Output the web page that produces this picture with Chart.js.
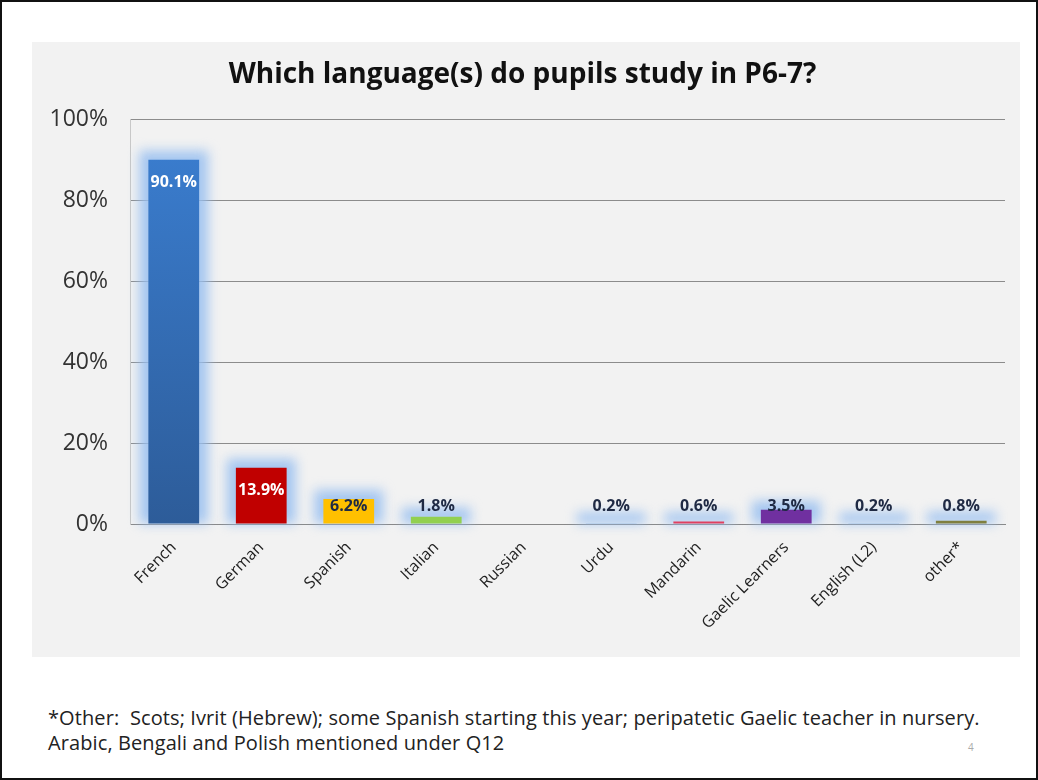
<!DOCTYPE html>
<html>
<head>
<meta charset="utf-8">
<script src="https://cdn.jsdelivr.net/npm/chart.js@4"></script>
<style>
  html, body { margin: 0; padding: 0; background: #fff; }
  #frame {
    position: relative; width: 1038px; height: 780px;
    box-sizing: border-box; border: 2px solid #111; background: #fff;
    font-family: "Open Sans", sans-serif;
  }
  #box {
    position: absolute; left: 30px; top: 40px; width: 988px; height: 615px;
    background: #f2f2f2;
  }
  #note {
    position: absolute; left: 46px; top: 703px; font-size: 20px; line-height: 25px;
    letter-spacing: 0.1px; color: #222; white-space: nowrap;
  }
  #page { position: absolute; left: 966px; top: 738px; font-size: 10px; color: #aaa; }
</style>
</head>
<body>
<div id="frame">
  <div id="box"><canvas id="placeholder1"></canvas></div>
  <div id="note">*Other:&nbsp; Scots; Ivrit (Hebrew); some Spanish starting this year; peripatetic Gaelic teacher in nursery.<br>Arabic, Bengali and Polish mentioned under Q12</div>
  <div id="page">4</div>
</div>
<script>
const languages = ['French', 'German', 'Spanish', 'Italian', 'Russian', 'Urdu', 'Mandarin', 'Gaelic Learners', 'English (L2)', 'other*'];
const percentages = [90.1, 13.9, 6.2, 1.8, 0, 0.2, 0.6, 3.5, 0.2, 0.8];
const barColors = ['#3670bd', '#c00000', '#ffc000', '#92d050', '#8db3e2', '#8db3e2', '#e04060', '#7030a0', '#8db3e2', '#7f7f3f'];
const labelColors = ['#ffffff', '#ffffff', '#1f2a44', '#1f2a44', '#1f2a44', '#1f2a44', '#1f2a44', '#1f2a44', '#1f2a44', '#1f2a44'];

const ctx = document.getElementById('placeholder1');

// soft blue glow round the bars (taken from the bar elements)
const glow = {
    id: 'glow',
    beforeDatasetsDraw(chart) {
        const c = chart.ctx;
        const meta = chart.getDatasetMeta(0);
        c.save();
        c.filter = 'blur(6px)';
        c.fillStyle = 'rgba(150, 190, 240, 0.85)';
        meta.data.forEach((bar, i) => {
            if (percentages[i] === 0) return;
            const half = bar.width / 2 + 9;
            const top = Math.min(bar.y, bar.base - 2) - 9;
            c.fillRect(bar.x - half, top, half * 2, bar.base - top);
        });
        c.restore();
    }
};

// value labels on the bars
const valueLabels = {
    id: 'valueLabels',
    afterDatasetsDraw(chart) {
        const c = chart.ctx;
        const meta = chart.getDatasetMeta(0);
        const base = chart.scales.y.getPixelForValue(0);
        c.save();
        c.font = 'bold 16px "Open Sans", sans-serif';
        c.textAlign = 'center';
        c.textBaseline = 'middle';
        meta.data.forEach((bar, i) => {
            if (percentages[i] === 0) return;
            const y = Math.min(bar.y + 23, base - 18);
            c.fillStyle = labelColors[i];
            c.fillText(percentages[i].toFixed(1) + '%', bar.x, y);
        });
        c.restore();
    }
};

const data = {
    labels: languages,
    datasets: [
        {
            data: percentages,
            backgroundColor: (context) => {
                const i = context.dataIndex;
                const area = context.chart.chartArea;
                if (i === 0 && area) {
                    const g = context.chart.ctx.createLinearGradient(0, area.top, 0, area.bottom);
                    g.addColorStop(0, '#3b7fd2');
                    g.addColorStop(1, '#2d5c99');
                    return g;
                }
                return barColors[i];
            },
            barPercentage: 0.58,
            categoryPercentage: 1.0,
        }
    ]
};

const config = {
    type: 'bar',
    data: data,
    plugins: [glow, valueLabels],
    options: {
        responsive: true,
        maintainAspectRatio: false,
        animation: false,
        layout: { padding: { left: 8, right: 15, top: 16, bottom: 18 } },
        plugins: {
            legend: { display: false },
            tooltip: { enabled: false },
            title: {
                display: true,
                text: 'Which language(s) do pupils study in P6-7?',
                color: '#111',
                font: { family: '"Open Sans", sans-serif', size: 28, weight: 'bold' },
                padding: { top: 0, bottom: 28 }
            }
        },
        scales: {
            x: {
                grid: { display: false },
                border: { color: '#888' },
                ticks: {
                    color: '#222',
                    font: { family: '"Open Sans", sans-serif', size: 16 },
                    maxRotation: 45,
                    minRotation: 45,
                    padding: 6
                }
            },
            y: {
                min: 0,
                max: 100,
                afterFit(scale) { scale.width = 90; },
                grid: { color: '#8c8c8c', drawTicks: false },
                border: { display: true, color: '#c8c8c8' },
                ticks: {
                    stepSize: 20,
                    padding: 22,
                    color: '#333',
                    font: { family: '"Open Sans", sans-serif', size: 23 },
                    callback: (v) => v + '%'
                }
            }
        }
    },
};

const barChart = new Chart(ctx, config);
</script>
</body>
</html>
